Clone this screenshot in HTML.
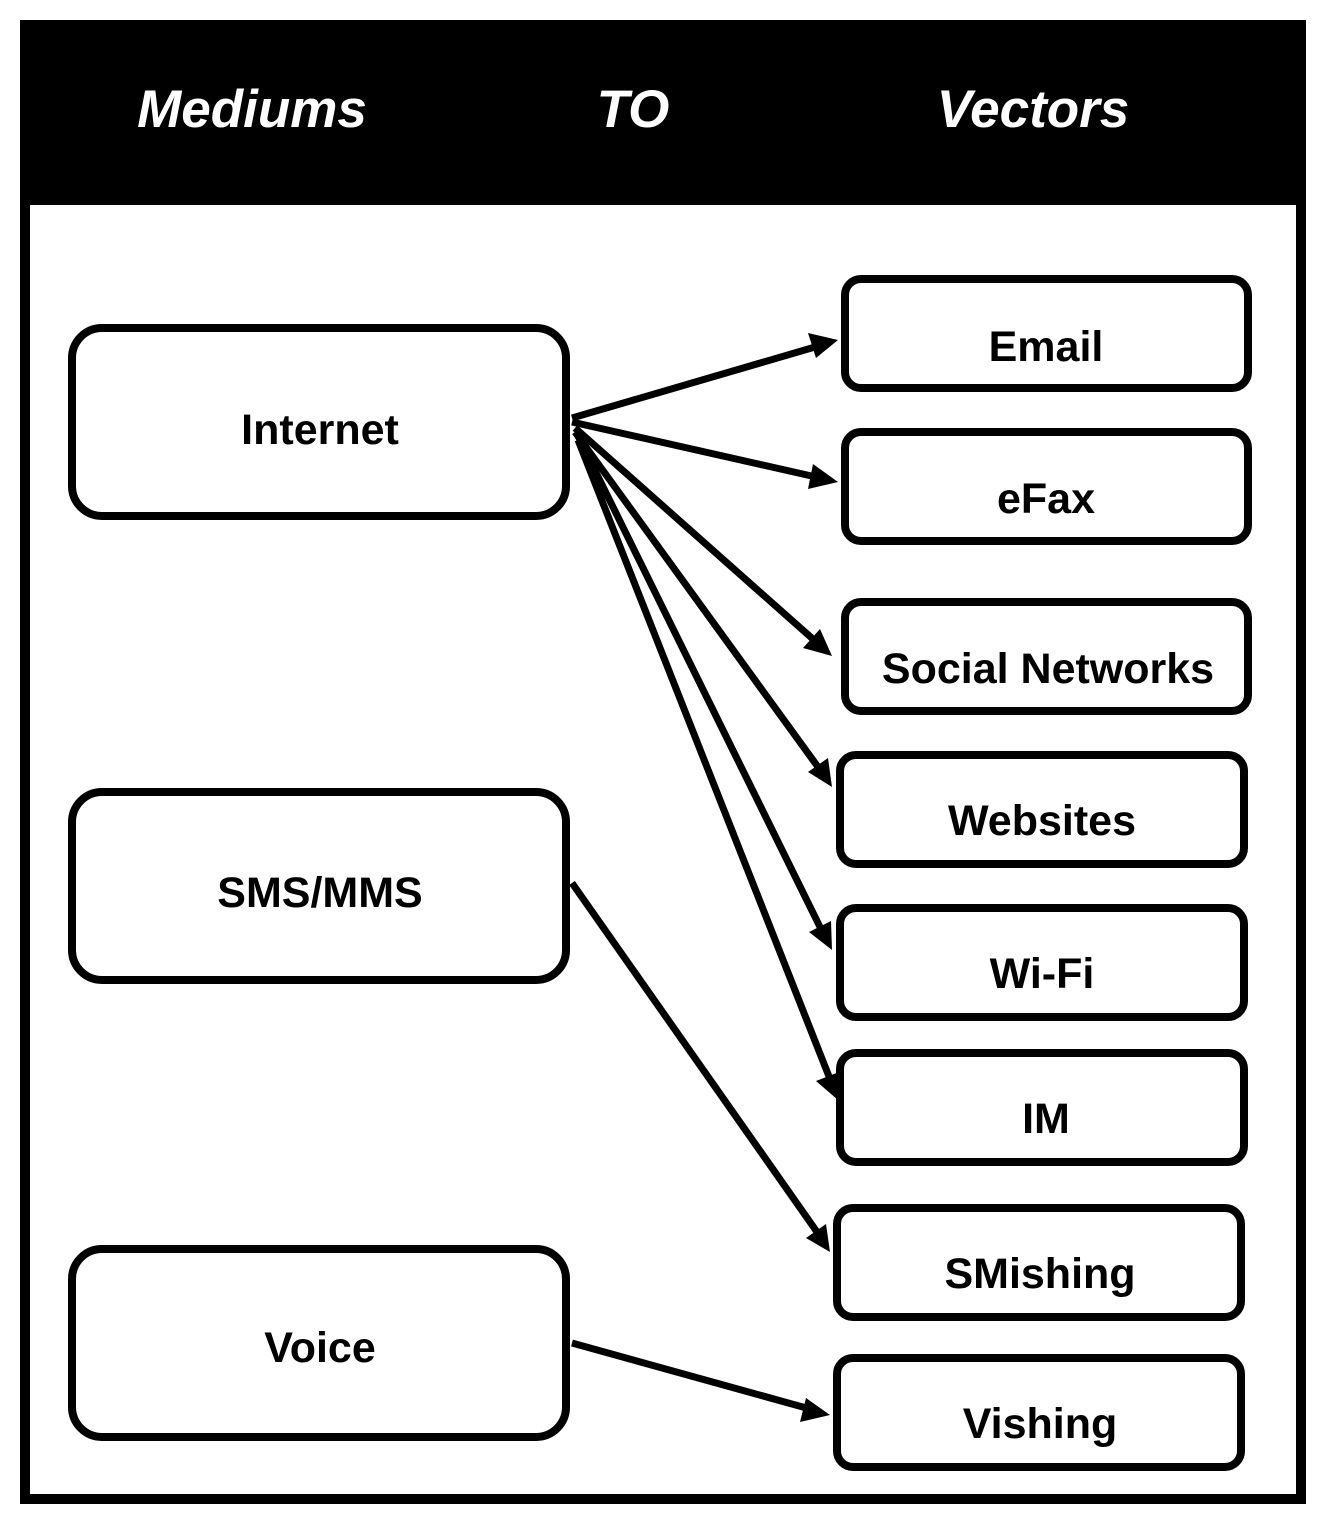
<!DOCTYPE html>
<html><head><meta charset="utf-8"><style>
html,body{margin:0;padding:0;background:#fff;}
svg{display:block;}
text{font-family:"Liberation Sans",sans-serif;font-weight:bold;}
</style></head><body>
<svg width="1328" height="1528" viewBox="0 0 1328 1528" xmlns="http://www.w3.org/2000/svg">
<rect x="20" y="20" width="1286" height="1484" fill="#000"/>
<rect x="30" y="205" width="1266" height="1289" fill="#fff"/>
<g fill="#fff" font-size="53" font-style="italic" text-anchor="middle">
<text x="252" y="127">Mediums</text>
<text x="633" y="127">TO</text>
<text x="1033" y="127">Vectors</text>
</g>
<g fill="none" stroke="#000" stroke-width="8">
<rect x="72" y="328" width="494" height="188" rx="30"/>
<rect x="72" y="792" width="494" height="188" rx="30"/>
<rect x="72" y="1249" width="494" height="188" rx="30"/>
<rect x="845" y="279" width="403" height="109" rx="16"/>
<rect x="845" y="432" width="403" height="109" rx="16"/>
<rect x="845" y="602" width="403" height="109" rx="16"/>
<rect x="840" y="755" width="404" height="109" rx="16"/>
<rect x="840" y="908" width="404" height="109" rx="16"/>
<rect x="840" y="1053" width="404" height="109" rx="16"/>
<rect x="837" y="1208" width="404" height="109" rx="16"/>
<rect x="837" y="1358" width="404" height="109" rx="16"/>
</g>
<g font-size="43" text-anchor="middle" fill="#000">
<text x="320" y="444">Internet</text>
<text x="320" y="907">SMS/MMS</text>
<text x="320" y="1362">Voice</text>
<text x="1046" y="361">Email</text>
<text x="1046" y="513">eFax</text>
<text x="1048" y="683">Social Networks</text>
<text x="1042" y="835">Websites</text>
<text x="1042" y="988">Wi-Fi</text>
<text x="1046" y="1133">IM</text>
<text x="1040" y="1288">SMishing</text>
<text x="1040" y="1438">Vishing</text>
</g>
<g stroke="#000" stroke-width="7" fill="none">
<line x1="572" y1="418" x2="815" y2="347"/>
<line x1="572" y1="422" x2="816" y2="477"/>
<line x1="575" y1="428" x2="814" y2="640"/>
<line x1="575" y1="432" x2="818" y2="767"/>
<line x1="578" y1="436" x2="821" y2="929"/>
<line x1="578" y1="440" x2="830" y2="1079"/>
<line x1="572" y1="883" x2="817" y2="1232"/>
<line x1="572" y1="1343" x2="810" y2="1409"/>
</g>
<g fill="#000">
<polygon points="838,340 808,333 816,358"/>
<polygon points="838,482 813,464 808,489"/>
<polygon points="832,656 820,629 803,648"/>
<polygon points="832,787 828,758 808,772"/>
<polygon points="832,950 831,921 809,932"/>
<polygon points="838,1100 839,1072 816,1081"/>
<polygon points="830,1252 826,1224 806,1238"/>
<polygon points="830,1415 806,1398 800,1422"/>
</g>
</svg>
</body></html>
